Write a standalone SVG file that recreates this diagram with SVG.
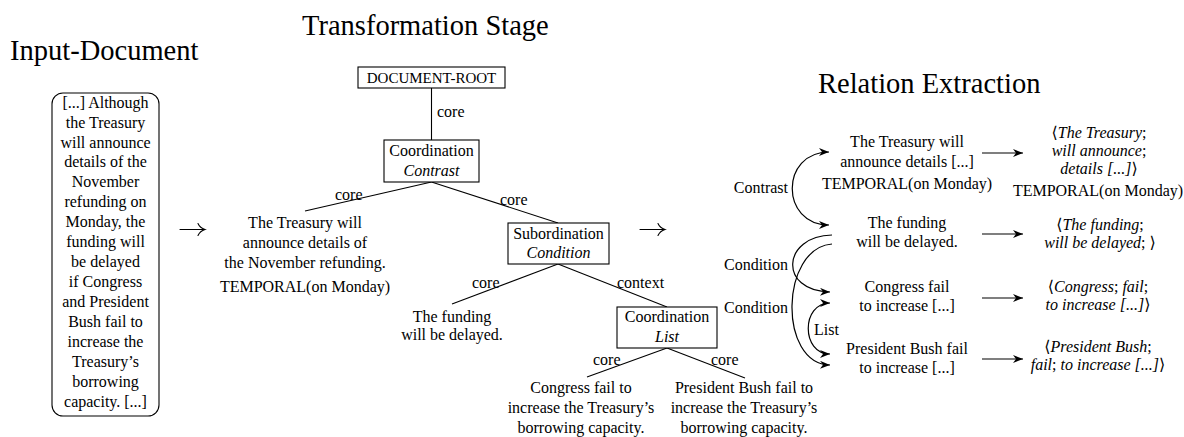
<svg xmlns="http://www.w3.org/2000/svg" width="1184" height="437" viewBox="0 0 1184 437">
<style>
text{font-family:"Liberation Serif","DejaVu Serif",serif;font-size:16px;fill:#000}
.t{font-size:28.5px}
.m{text-anchor:middle}
.e{text-anchor:end}
.i{font-style:italic}
.box{fill:#fff;stroke:#000;stroke-width:1.1}
.ln{stroke:#000;stroke-width:1.1;fill:none}
.ar{stroke:#000;stroke-width:1.2;fill:none}
.sa{stroke:#000;stroke-width:1.1;fill:none;stroke-linecap:round}
</style>
<defs>
<marker id="ah" viewBox="0 0 10 8" refX="10" refY="4" markerWidth="10" markerHeight="8" markerUnits="userSpaceOnUse" orient="auto-start-reverse">
<path d="M0,0 L10,4 L0,8 L3,4 z" fill="#000"/>
</marker>
</defs>
<rect width="1184" height="437" fill="#fff"/>

<g id="titles">
<text class="t" x="10" y="60">Input-Document</text>
<text class="t" x="302" y="35">Transformation Stage</text>
<text class="t" x="818" y="93">Relation Extraction</text>
</g>

<g id="input-document">
<rect x="52" y="93" width="107" height="323" rx="11" ry="11" class="box"/>
<text class="m" x="105.5" y="108">[...]  Although</text>
<text class="m" x="105.5" y="128">the Treasury</text>
<text class="m" x="105.5" y="148">will announce</text>
<text class="m" x="105.5" y="167">details of the</text>
<text class="m" x="105.5" y="187">November</text>
<text class="m" x="105.5" y="207">refunding on</text>
<text class="m" x="105.5" y="227">Monday, the</text>
<text class="m" x="105.5" y="247">funding will</text>
<text class="m" x="105.5" y="267">be delayed</text>
<text class="m" x="105.5" y="287">if Congress</text>
<text class="m" x="105.5" y="307">and President</text>
<text class="m" x="105.5" y="327">Bush fail to</text>
<text class="m" x="105.5" y="347">increase the</text>
<text class="m" x="105.5" y="367">Treasury’s</text>
<text class="m" x="105.5" y="387">borrowing</text>
<text class="m" x="105.5" y="407">capacity.  [...]</text>
</g>

<g id="stage-arrows">
<path class="sa" d="M180 229.5 H205 M198 223.5 Q200 228 205 229.5 Q200 231 198 235.5"/>
<path class="sa" d="M640 229.5 H665 M658 223.5 Q660 228 665 229.5 Q660 231 658 235.5"/>
</g>

<g id="connectors">
<line class="ln" x1="431.5" y1="88" x2="431.5" y2="140"/>
<line class="ln" x1="431.5" y1="182" x2="305" y2="211"/>
<line class="ln" x1="431.5" y1="182" x2="558" y2="223"/>
<line class="ln" x1="558" y1="264" x2="452" y2="304"/>
<line class="ln" x1="558" y1="264" x2="667" y2="307"/>
<line class="ln" x1="667" y1="348" x2="587" y2="377"/>
<line class="ln" x1="667" y1="348" x2="745" y2="378"/>
<path class="ar" d="M829 152 C780 152 780 225 829 225" marker-start="url(#ah)" marker-end="url(#ah)"/>
<path class="ar" d="M832 235 C782 236 778 291 830 292" marker-end="url(#ah)"/>
<path class="ar" d="M832 244 C780 248 778 364 830 365" marker-end="url(#ah)"/>
<path class="ar" d="M830 303 C801 303 801 354 830 354" marker-start="url(#ah)" marker-end="url(#ah)"/>
<path class="ar" d="M982 153 H1023" marker-end="url(#ah)"/>
<path class="ar" d="M982 234 H1023" marker-end="url(#ah)"/>
<path class="ar" d="M982 298 H1023" marker-end="url(#ah)"/>
<path class="ar" d="M982 359 H1023" marker-end="url(#ah)"/>
</g>

<g id="edge-labels">
<text x="437" y="117">core</text>
<text x="335" y="200">core</text>
<text x="500" y="205">core</text>
<text x="472" y="288">core</text>
<text x="617" y="288">context</text>
<text x="593" y="365">core</text>
<text x="711" y="365">core</text>
<text class="e" x="788" y="193">Contrast</text>
<text class="e" x="788" y="270">Condition</text>
<text class="e" x="788" y="313">Condition</text>
<text x="814" y="335">List</text>
</g>

<g id="document-root">
<rect x="358" y="67" width="147" height="21" class="box"/>
<text class="m" x="431.5" y="83" style="font-size:15px">DOCUMENT-ROOT</text>
</g>

<g id="coordination-contrast">
<rect x="384" y="140" width="95" height="42" class="box"/>
<text class="m" x="431.5" y="156">Coordination</text>
<text class="m i" x="431.5" y="176">Contrast</text>
</g>

<g id="leaf-treasury">
<text class="m" x="305" y="228">The Treasury will</text>
<text class="m" x="305" y="248">announce details of</text>
<text class="m" x="305" y="268">the November refunding.</text>
<text class="m" x="305" y="292">TEMPORAL(on Monday)</text>
</g>

<g id="subordination-condition">
<rect x="508" y="223" width="101" height="41" class="box"/>
<text class="m" x="558.5" y="239">Subordination</text>
<text class="m i" x="558.5" y="258">Condition</text>
</g>

<g id="leaf-funding">
<text class="m" x="452" y="322">The funding</text>
<text class="m" x="452" y="340">will be delayed.</text>
</g>

<g id="coordination-list">
<rect x="617" y="307" width="100" height="41" class="box"/>
<text class="m" x="667" y="322">Coordination</text>
<text class="m i" x="667" y="342">List</text>
</g>

<g id="leaf-congress">
<text class="m" x="581" y="393">Congress fail to</text>
<text class="m" x="581" y="413">increase the Treasury’s</text>
<text class="m" x="581" y="433">borrowing capacity.</text>
</g>

<g id="leaf-bush">
<text class="m" x="744" y="393">President Bush fail to</text>
<text class="m" x="744" y="413">increase the Treasury’s</text>
<text class="m" x="744" y="433">borrowing capacity.</text>
</g>

<g id="rel-treasury">
<text class="m" x="907" y="147">The Treasury will</text>
<text class="m" x="907" y="167">announce details [...]</text>
<text class="m" x="907" y="189">TEMPORAL(on Monday)</text>
</g>

<g id="rel-funding">
<text class="m" x="907" y="228">The funding</text>
<text class="m" x="907" y="247">will be delayed.</text>
</g>

<g id="rel-congress">
<text class="m" x="907" y="292">Congress fail</text>
<text class="m" x="907" y="311">to increase [...]</text>
</g>

<g id="rel-bush">
<text class="m" x="907" y="354">President Bush fail</text>
<text class="m" x="907" y="373">to increase [...]</text>
</g>

<g id="tuple-treasury">
<text class="m" x="1099" y="138">⟨<tspan class="i">The Treasury</tspan>;</text>
<text class="m" x="1099" y="156"><tspan class="i">will announce</tspan>;</text>
<text class="m" x="1099" y="174"><tspan class="i">details [...]</tspan>⟩</text>
<text class="m" x="1098" y="196">TEMPORAL(on Monday)</text>
</g>

<g id="tuple-funding">
<text class="m" x="1100" y="230">⟨<tspan class="i">The funding</tspan>;</text>
<text class="m" x="1100" y="248"><tspan class="i">will be delayed</tspan>; ⟩</text>
</g>

<g id="tuple-congress">
<text class="m" x="1098" y="292">⟨<tspan class="i">Congress</tspan>; <tspan class="i">fail</tspan>;</text>
<text class="m" x="1098" y="310"><tspan class="i">to increase [...]</tspan>⟩</text>
</g>

<g id="tuple-bush">
<text class="m" x="1098" y="352">⟨<tspan class="i">President Bush</tspan>;</text>
<text class="m" x="1098" y="370"><tspan class="i">fail</tspan>; <tspan class="i">to increase [...]</tspan>⟩</text>
</g>
</svg>
